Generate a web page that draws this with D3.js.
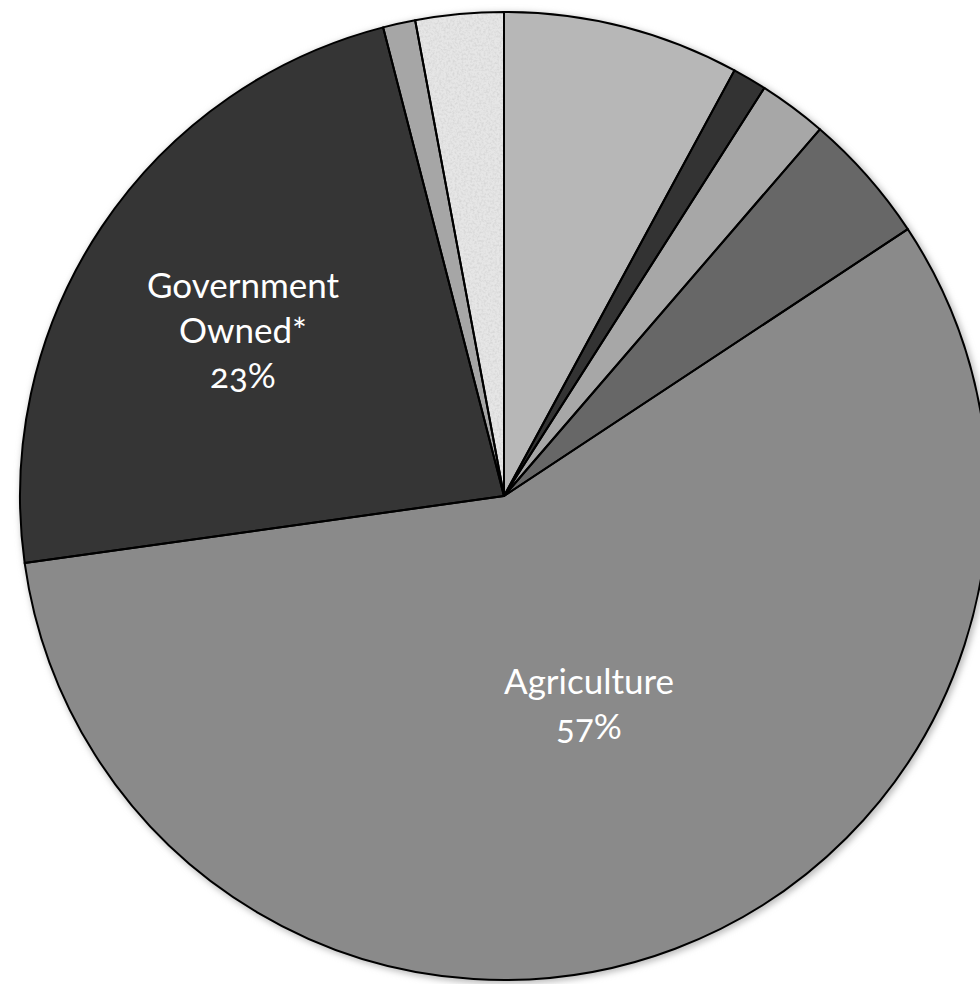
<!DOCTYPE html>
<html><head><meta charset="utf-8">
<script src="https://cdn.jsdelivr.net/npm/d3@7"></script>
<style>html,body{margin:0;padding:0;background:#fff;overflow:hidden}</style>
</head><body>
<svg id="chart" width="980" height="984"></svg>
<script>
const categories = ["Other A","Other B","Other C","Other D","Agriculture","Government Owned*","Other E","Other F"];
const values = [7.9, 1.14, 2.28, 4.39, 57.1, 23.2, 1.08, 2.94];
const colors = ["#b7b7b7","#333333","#a7a7a7","#676767","#8a8a8a","#353535","#a6a6a6","#e6e6e6"];
const labels = [null,null,null,null,["Agriculture","57%"],["Government","Owned*","23%"],null,null];

const svg = d3.select("#chart");
const cx = 504, cy = 496, r = 484;
const defs = svg.append("defs");
const blur = defs.append("filter").attr("id","shadow").attr("x","-10%").attr("y","-10%").attr("width","120%").attr("height","120%");
blur.append("feGaussianBlur").attr("stdDeviation",3);
const speck = defs.append("filter").attr("id","speck");
speck.append("feTurbulence").attr("type","fractalNoise").attr("baseFrequency",0.45).attr("numOctaves",2).attr("seed",3).attr("result","n");
speck.append("feColorMatrix").attr("in","n").attr("type","matrix")
  .attr("values","0 0 0 0 0.6  0 0 0 0 0.6  0 0 0 0 0.6  1.4 0 0 0 -0.55").attr("result","m");
speck.append("feComposite").attr("in","m").attr("in2","SourceGraphic").attr("operator","in").attr("result","c");
const fm = speck.append("feMerge");
fm.append("feMergeNode").attr("in","SourceGraphic");
fm.append("feMergeNode").attr("in","c");

const g = svg.append("g").attr("transform",`translate(${cx},${cy})`);
g.append("circle").attr("cx",2).attr("cy",2).attr("r",r+2).attr("fill","#bdbdbd").attr("filter","url(#shadow)");

const pie = d3.pie().sort(null).value(d => d);
const arcs = pie(values);
const arc = d3.arc().innerRadius(0).outerRadius(r);

g.selectAll("path.slice").data(arcs).join("path")
  .attr("class","slice")
  .attr("d",arc)
  .attr("fill",(d,i)=>colors[i])
  .attr("filter",(d,i)=> i===7 ? "url(#speck)" : null);
g.selectAll("path.edge").data(arcs).join("path")
  .attr("class","edge")
  .attr("d",arc)
  .attr("fill","none")
  .attr("stroke","#000").attr("stroke-width",2).attr("stroke-linejoin","round");

const labelPos = {4:[589,694], 5:[243,298]};
arcs.forEach((d,i)=>{
  if(!labels[i]) return;
  const [x,y] = labelPos[i];
  const t = svg.append("text").attr("text-anchor","middle")
    .attr("font-family","Lato, 'Open Sans', sans-serif").attr("font-size",35)
    .attr("fill","#fff").style("font-variant-numeric","oldstyle-nums");
  labels[i].forEach((s,k)=>{
    t.append("tspan").attr("x",x).attr("y",y + k*45).text(s);
  });
});
</script>
</body></html>
